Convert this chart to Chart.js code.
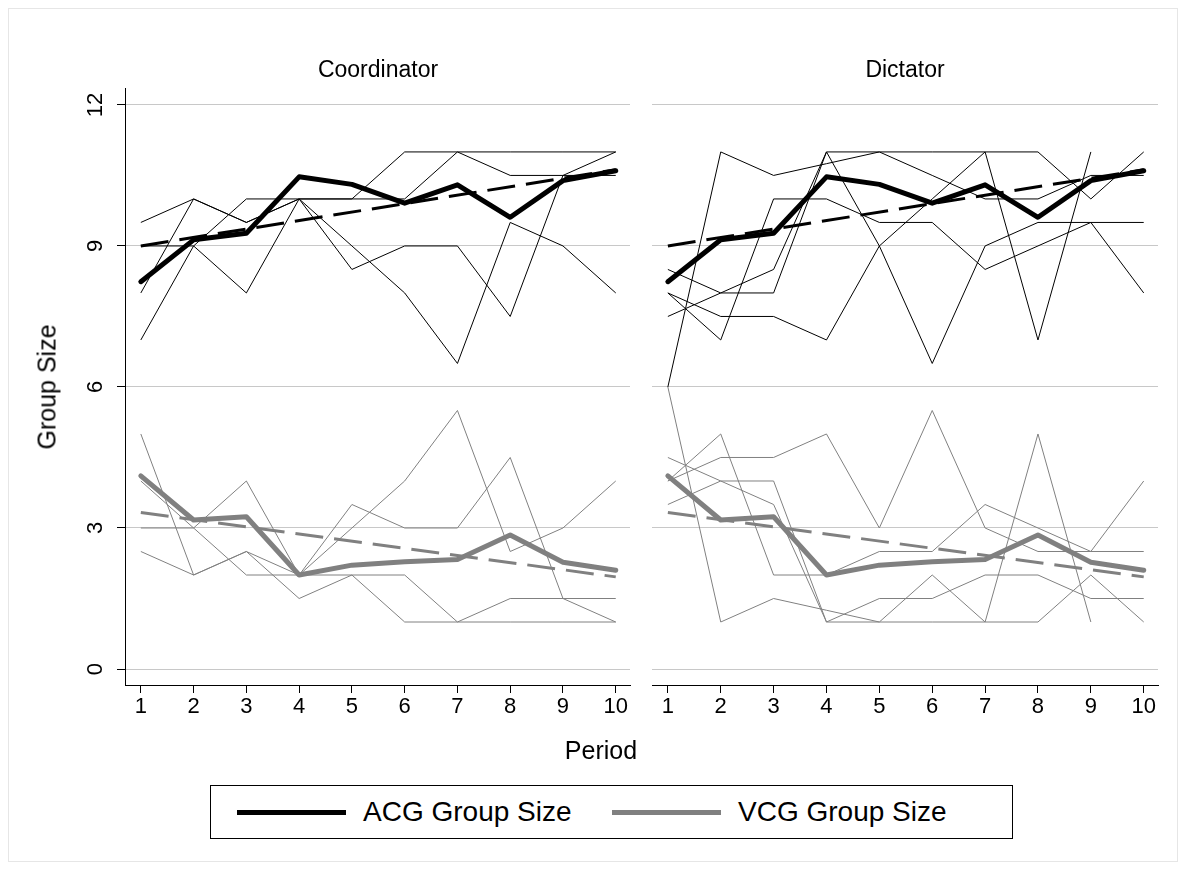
<!DOCTYPE html>
<html>
<head>
<meta charset="utf-8">
<script src="https://cdn.jsdelivr.net/npm/chart.js@4.4.1/dist/chart.umd.min.js"></script>
<style>
  body { margin: 0; background: #fff; font-family: "Liberation Sans", Arial, sans-serif; }
  #wrap { position: relative; width: 1186px; height: 870px; overflow: hidden; }
  .frame { position: absolute; left: 8px; top: 8px; width: 1168px; height: 852px; border: 1px solid #e6e6e6; }
  canvas { position: absolute; top: 0; }
  .lbl { position: absolute; color: #000; white-space: nowrap; line-height: 1; transform: translate(-50%, -50%); }
  .legend { position: absolute; left: 210px; top: 785px; width: 801px; height: 52px; border: 1px solid #000; }
  .swatch { position: absolute; height: 5px; }
</style>
</head>
<body>
<div id="wrap">
  <div class="frame"></div>
  <canvas id="left" width="640" height="740" style="left:0px"></canvas>
  <canvas id="right" width="540" height="740" style="left:640px"></canvas>

  <div class="lbl" style="left:378px; top:69px; font-size:23px">Coordinator</div>
  <div class="lbl" style="left:905px; top:69px; font-size:23px">Dictator</div>
  <div class="lbl" style="left:47px; top:387px; font-size:25px; transform: translate(-50%, -50%) rotate(-90deg)">Group Size</div>
  <div class="lbl" style="left:601px; top:750px; font-size:25px">Period</div>

  <div class="legend">
    <div class="swatch" style="left:26px; top:24px; width:109px; background:#000"></div>
    <div class="lbl" style="left:152px; top:26px; font-size:28px; transform: translate(0, -50%)">ACG Group Size</div>
    <div class="swatch" style="left:401px; top:24px; width:109px; background:#808080"></div>
    <div class="lbl" style="left:527px; top:26px; font-size:28px; transform: translate(0, -50%)">VCG Group Size</div>
  </div>
</div>

<script>
// DATA
const periods = [1, 2, 3, 4, 5, 6, 7, 8, 9, 10];
const yTicks = [0, 3, 6, 9, 12];

// averages over all groups (same in both panels)
const acgMean = [8.24, 9.13, 9.27, 10.47, 10.31, 9.91, 10.3, 9.61, 10.39, 10.6];
const vcgMean = [4.11, 3.17, 3.24, 2.0, 2.21, 2.28, 2.33, 2.85, 2.27, 2.1];

// fitted trend, end points only
const trendPeriods = [1, 10];
const acgTrend = [9.0, 10.62];
const vcgTrend = [3.33, 1.96];

// single groups, coordinator treatment
const coordAcg = [
  [9.5, 10, 9.5, 10, 10, 11, 11, 11, 11, 11],
  [8, 10, 9.5, 10, 10, 10, 11, 10.5, 10.5, 11],
  [9, 9, 10, 10, 9, 8, 6.5, 9.5, 9, 8],
  [7, 9, 8, 10, 8.5, 9, 9, 7.5, 10.5, 10.5]
];
const coordVcg = [
  [5, 2, 2.5, 1.5, 2, 1, 1, 1, 1, 1],
  [4, 3, 4, 2, 3, 4, 5.5, 2.5, 3, 4],
  [3, 3, 2, 2, 2, 2, 1, 1.5, 1.5, 1.5],
  [2.5, 2, 2.5, 2, 3.5, 3, 3, 4.5, 1.5, 1]
];

// single groups, dictator treatment
const dictAcg = [
  [8.5, 8, 8, 11, 11, 11, 11, 11, 10, 11],
  [6, 11, 10.5, 10.75, 11, 10.5, 10, 10, 10.5, 10.5],
  [8, 7, 10, 10, 9.5, 9.5, 8.5, 9, 9.5, 8],
  [7.5, 8, 8.5, 11, 9, 6.5, 9, 9.5, 9.5, 9.5],
  [8, 7.5, 7.5, 7, 9, 10, 11, 7, 11, null]
];
const dictVcg = [
  [4, 4.5, 4.5, 5, 3, 5.5, 3, 2.5, 2.5, 2.5],
  [6, 1, 1.5, 1.25, 1, 1, 1, 1, 2, 1],
  [4, 5, 2, 2, 2.5, 2.5, 3.5, 3, 2.5, 4],
  [3.5, 4, 4, 1, 1.5, 1.5, 2, 2, 1.5, 1.5],
  [4.5, 4, 3.5, 1, 1, 2, 1, 5, 1, null]
];

const FONT = '"Liberation Sans", Arial, sans-serif';
const BLACK = "#000000";
const GRAY = "#808080";
const GRID = "#c8c8c8";

function pts(xs, ys) {
  return xs.map((x, i) => ({ x: x, y: ys[i] }));
}

function thinLine(vals, color) {
  return { data: pts(periods, vals), borderColor: color, borderWidth: 1, pointRadius: 0, spanGaps: false, order: 3 };
}

function makeDatasets(acgGroups, vcgGroups) {
  let ds = [];
  acgGroups.forEach(g => ds.push(thinLine(g, BLACK)));
  vcgGroups.forEach(g => ds.push(thinLine(g, GRAY)));
  ds.push({ data: pts(trendPeriods, acgTrend), borderColor: BLACK, borderWidth: 3, borderDash: [28, 11], pointRadius: 0, order: 1 });
  ds.push({ data: pts(trendPeriods, vcgTrend), borderColor: GRAY, borderWidth: 3, borderDash: [28, 11], pointRadius: 0, order: 1 });
  ds.push({ data: pts(periods, acgMean), borderColor: BLACK, borderWidth: 5, pointRadius: 0, borderJoinStyle: "round", borderCapStyle: "round", order: 0 });
  ds.push({ data: pts(periods, vcgMean), borderColor: GRAY, borderWidth: 5, pointRadius: 0, borderJoinStyle: "round", borderCapStyle: "round", order: 0 });
  return ds;
}

// y tick labels are rotated like in the original
const rotatedYLabels = {
  id: "rotatedYLabels",
  afterDraw(chart, args, opts) {
    if (!opts.show) return;
    const ctx = chart.ctx;
    const y = chart.scales.y;
    ctx.save();
    ctx.font = "22px " + FONT;
    ctx.fillStyle = BLACK;
    ctx.textAlign = "center";
    ctx.textBaseline = "middle";
    y.ticks.forEach(t => {
      ctx.save();
      ctx.translate(opts.x, y.getPixelForValue(t.value));
      ctx.rotate(-Math.PI / 2);
      ctx.fillText(String(t.value), 0, 0);
      ctx.restore();
    });
    ctx.restore();
  }
};

function makeChart(id, acgGroups, vcgGroups, isLeft) {
  let ctx = document.getElementById(id).getContext("2d");
  return new Chart(ctx, {
    type: "line",
    data: { datasets: makeDatasets(acgGroups, vcgGroups) },
    plugins: [rotatedYLabels],
    options: {
      responsive: false,
      animation: false,
      layout: { padding: { left: 0, right: isLeft ? 10 : 22, top: 88, bottom: 0 } },
      plugins: {
        legend: { display: false },
        tooltip: { enabled: false },
        rotatedYLabels: { show: isLeft, x: 96 }
      },
      scales: {
        x: {
          type: "linear",
          min: 0.7,
          max: 10.27,
          afterBuildTicks: s => { s.ticks = periods.map(v => ({ value: v })); },
          afterFit: s => { s.height = 55; },
          ticks: { color: BLACK, font: { family: FONT, size: 22 }, padding: 1, maxRotation: 0, autoSkip: false },
          grid: { drawOnChartArea: false, drawTicks: true, tickLength: 8, tickColor: BLACK },
          border: { display: true, color: BLACK, width: 1 }
        },
        y: {
          type: "linear",
          min: -0.34,
          max: 12.36,
          afterBuildTicks: s => { s.ticks = yTicks.map(v => ({ value: v })); },
          afterFit: s => { s.width = isLeft ? 125 : 12; },
          ticks: { display: false },
          grid: { color: GRID, lineWidth: 1, drawTicks: isLeft, tickLength: 8, tickColor: BLACK },
          border: { display: isLeft, color: BLACK, width: 1 }
        }
      }
    }
  });
}

makeChart("left", coordAcg, coordVcg, true);
makeChart("right", dictAcg, dictVcg, false);
</script>
</body>
</html>
